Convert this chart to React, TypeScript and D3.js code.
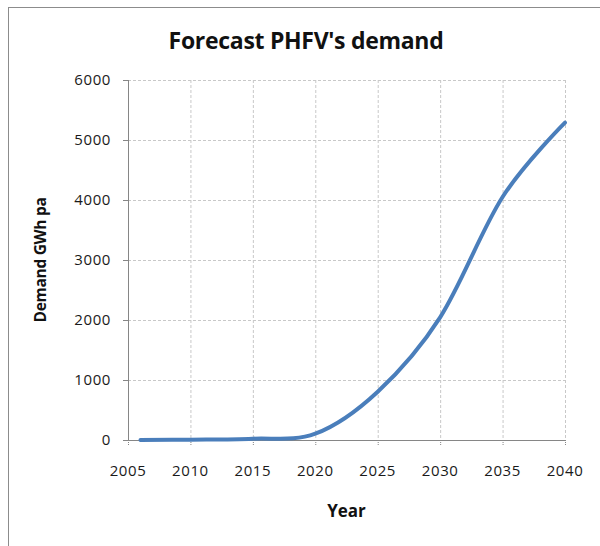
import React from "react";
import * as d3 from "d3";

const years = [2006, 2010, 2015, 2020, 2025, 2030, 2035, 2040];
const demand = [0, 5, 22, 105, 805, 2045, 4050, 5290];
const xTicks = [2005, 2010, 2015, 2020, 2025, 2030, 2035, 2040];
const yTicks = [0, 1000, 2000, 3000, 4000, 5000, 6000];

const W = 600, H = 546;
const L = 128, R = 565, T = 80, B = 440;
const FONT = "Open Sans, Calibri, sans-serif";

export default function App() {
  const x = d3.scaleLinear().domain([2005, 2040]).range([L, R]);
  const y = d3.scaleLinear().domain([0, 6000]).range([B, T]);
  const data = years.map((yr, i) => [yr, demand[i]] as [number, number]);
  const line = d3.line<[number, number]>()
    .x(d => x(d[0])).y(d => y(d[1]))
    .curve(d3.curveCatmullRom.alpha(0));
  return (
    <svg width={W} height={H} style={{ position: "absolute", left: 0, top: 0, background: "#fff" }}>
      <rect x={8.5} y={7.5} width={620} height={600} fill="#fff" stroke="#8c8c8c" strokeWidth={1} />
      <text x={306} y={49} textAnchor="middle" fontFamily={FONT} fontWeight="bold" fontSize={23} fill="#111" letterSpacing={-0.3}>
        Forecast PHFV's demand
      </text>
      {yTicks.map(t => (
        <g key={"y" + t}>
          {t > 0 && <line x1={L} x2={R} y1={y(t) + 0.5} y2={y(t) + 0.5} stroke="#c8c8c8" strokeDasharray="3,2" />}
          <line x1={L - 5} x2={L} y1={y(t) + 0.5} y2={y(t) + 0.5} stroke="#868686" />
          <text x={L - 17} y={y(t) + 5} textAnchor="end" fontFamily={FONT} fontSize={15} fill="#1a1a1a" letterSpacing={0.6}>{t}</text>
        </g>
      ))}
      {xTicks.map(t => (
        <g key={"x" + t}>
          {t > 2005 && <line x1={x(t) + 0.5} x2={x(t) + 0.5} y1={T} y2={B} stroke="#c8c8c8" strokeDasharray="3,2" />}
          <line x1={x(t) + 0.5} x2={x(t) + 0.5} y1={B} y2={B + 5} stroke="#868686" strokeDasharray="1,1" />
          <text x={x(t)} y={B + 36} textAnchor="middle" fontFamily={FONT} fontSize={15} fill="#1a1a1a" letterSpacing={0.6}>{t}</text>
        </g>
      ))}
      <line x1={L + 0.5} x2={L + 0.5} y1={T} y2={B} stroke="#868686" />
      <line x1={L} x2={R} y1={B + 0.5} y2={B + 0.5} stroke="#868686" />
      <path d={line(data) || ""} fill="none" stroke="#4a7ebb" strokeWidth={4} strokeLinecap="round" />
      <text x={(L + R) / 2} y={517} textAnchor="middle" fontFamily={FONT} fontWeight="bold" fontSize={17} fill="#111">Year</text>
      <text transform={`translate(46,${(T + B) / 2}) rotate(-90)`} textAnchor="middle" fontFamily={FONT} fontWeight="bold" fontSize={15.5} fill="#111" letterSpacing={-0.3}>
        Demand GWh pa
      </text>
    </svg>
  );
}
